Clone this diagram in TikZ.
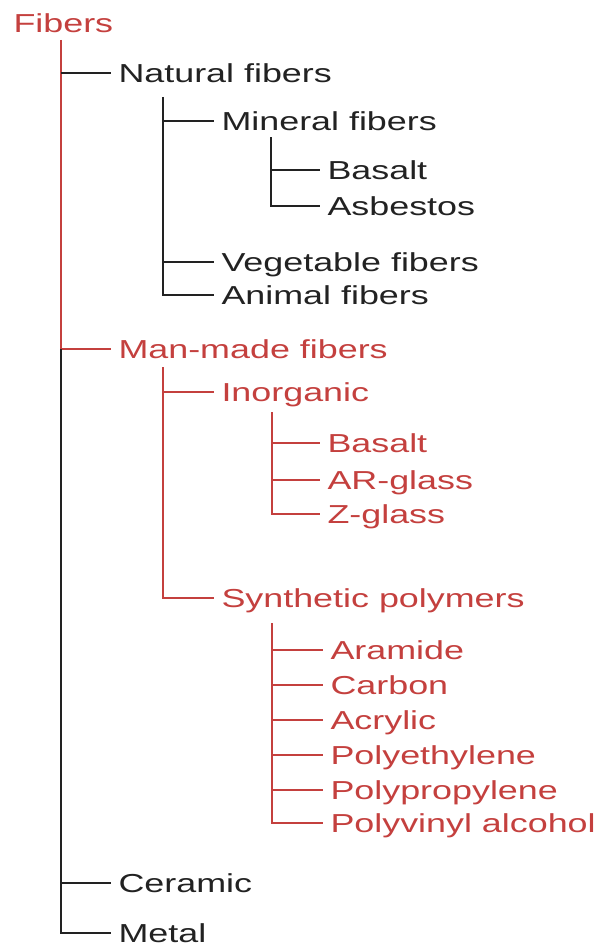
\documentclass[tikz,border=0pt]{standalone}
\usepackage{fontspec}
\setmainfont[FakeStretch=1.38]{Liberation Sans}
\usepackage{tikz}
\usetikzlibrary{positioning,calc}
\definecolor{FiberRed}{HTML}{C4403E}
\definecolor{FiberInk}{HTML}{222222}

\begin{document}
\begin{tikzpicture}[
  x=1pt,y=-1pt,
  item/.style={anchor=west,inner sep=0pt,outer xsep=7.5pt,outer ysep=0pt,
               text height=18.6pt,text depth=0pt,font=\fontsize{26}{30}\selectfont},
  blackitem/.style={item,text=FiberInk},
  reditem/.style={item,text=FiberRed},
  blackline/.style={draw=FiberInk,line width=2.7pt},
  redline/.style={draw=FiberRed,line width=2.7pt}
]
\useasboundingbox (0,0) rectangle (611,947);

% Root
\node[reditem] (fibers) at (6,23) {Fibers};
\coordinate (rootstem) at (61,40);

% Natural fibers
\node[blackitem] (natural) at (111,73) {Natural fibers};
\coordinate (naturalstem) at (163,97);
\node[blackitem] (mineral) at (214,121) {Mineral fibers};
\coordinate (mineralstem) at (271,137);
\node[blackitem] (basaltnat) at (320,170) {Basalt};
\node[blackitem] (asbestos) at (320,206) {Asbestos};
\node[blackitem] (vegetable) at (214,262) {Vegetable fibers};
\node[blackitem] (animal) at (214,295) {Animal fibers};

% Man-made fibers
\node[reditem] (manmade) at (111,349) {Man-made fibers};
\coordinate (manmadestem) at (163,367);
\node[reditem] (inorganic) at (214,392) {Inorganic};
\coordinate (inorganicstem) at (272,412);
\node[reditem] (basaltman) at (320,443) {Basalt};
\node[reditem] (arglass) at (320,480) {AR-glass};
\node[reditem] (zglass) at (320,514) {Z-glass};
\node[reditem] (synthetic) at (214,598) {Synthetic polymers};
\coordinate (syntheticstem) at (272,623);
\node[reditem] (aramide) at (323,650) {Aramide};
\node[reditem] (carbon) at (323,685) {Carbon};
\node[reditem] (acrylic) at (323,720) {Acrylic};
\node[reditem] (polyethylene) at (323,755) {Polyethylene};
\node[reditem] (polypropylene) at (323,790) {Polypropylene};
\node[reditem] (polyvinyl) at (323,823) {Polyvinyl alcohol};

% Ceramic and metal
\node[blackitem] (ceramic) at (111,883) {Ceramic};
\node[blackitem] (metal) at (111,933) {Metal};

% Main stem
\draw[redline] (rootstem) |- (manmade.west);
\draw[blackline] (rootstem |- manmade.west) |- (metal.west);
\draw[blackline] (rootstem |- natural.west) -- (natural.west);
\draw[blackline] (rootstem |- ceramic.west) -- (ceramic.west);

% Natural branch
\draw[blackline] (naturalstem) |- (animal.west);
\draw[blackline] (naturalstem |- mineral.west) -- (mineral.west);
\draw[blackline] (naturalstem |- vegetable.west) -- (vegetable.west);
\draw[blackline] (mineralstem) |- (asbestos.west);
\draw[blackline] (mineralstem |- basaltnat.west) -- (basaltnat.west);

% Man-made branch
\draw[redline] (manmadestem) |- (synthetic.west);
\draw[redline] (manmadestem |- inorganic.west) -- (inorganic.west);
\draw[redline] (inorganicstem) |- (zglass.west);
\draw[redline] (inorganicstem |- basaltman.west) -- (basaltman.west);
\draw[redline] (inorganicstem |- arglass.west) -- (arglass.west);
\draw[redline] (syntheticstem) |- (polyvinyl.west);
\foreach \leaf in {aramide,carbon,acrylic,polyethylene,polypropylene}
  \draw[redline] (syntheticstem |- \leaf.west) -- (\leaf.west);
\end{tikzpicture}
\end{document}
